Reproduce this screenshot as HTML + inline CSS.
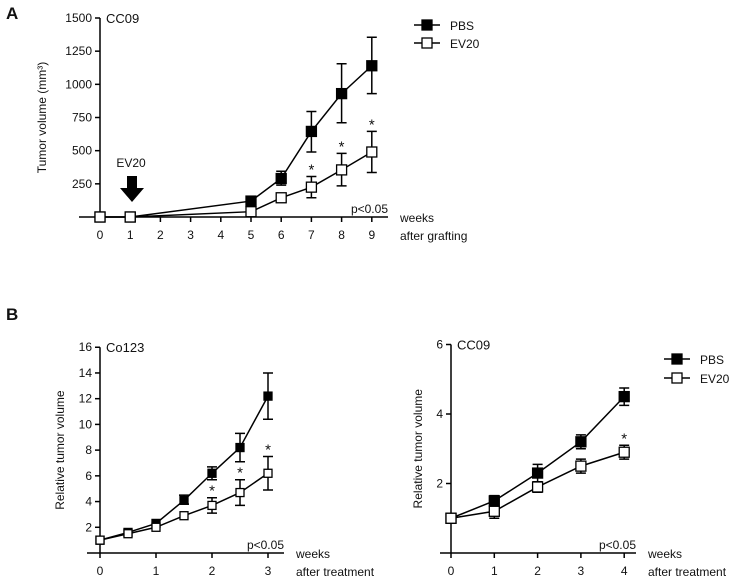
<!DOCTYPE html>
<html><head><meta charset="utf-8"><style>
body{margin:0;background:#fff;width:732px;height:578px;overflow:hidden}
svg{display:block;font-family:"Liberation Sans",Arial,sans-serif}
</style></head><body>
<svg id="fig" width="732" height="578" viewBox="0 0 732 578"></svg>
<script>
// Panel A data
const aWeeks=[0,1,5,6,7,8,9];
const aPBS=[0,0,120,290,645,930,1140];
const aPBSlo=[0,0,120,240,490,710,930];
const aPBShi=[0,0,120,345,795,1155,1355];
const aEV=[0,0,40,145,225,355,490];
const aEVlo=[0,0,40,110,145,235,335];
const aEVhi=[0,0,40,175,305,480,645];
const aStars=[0,0,0,0,1,1,1];
const aYTicks=[250,500,750,1000,1250,1500];
const aXTicks=[0,1,2,3,4,5,6,7,8,9];
// Panel B left data
const bWeeks=[0,0.5,1,1.5,2,2.5,3];
const bPBS=[1,1.6,2.3,4.1,6.2,8.2,12.2];
const bPBSlo=[1,1.6,2.3,3.8,5.7,7.1,10.4];
const bPBShi=[1,1.6,2.3,4.5,6.7,9.3,14.0];
const bEV=[1,1.5,2.0,2.9,3.7,4.7,6.2];
const bEVlo=[1,1.5,2.0,2.9,3.1,3.7,4.9];
const bEVhi=[1,1.5,2.0,2.9,4.3,5.7,7.5];
const bStars=[0,0,0,0,1,1,1];
const bYTicks=[2,4,6,8,10,12,14,16];
const bXTicks=[0,1,2,3];
// Panel B right data
const cWeeks=[0,1,2,3,4];
const cPBS=[1,1.5,2.3,3.2,4.5];
const cPBSlo=[1,1.35,2.05,3.0,4.25];
const cPBShi=[1,1.65,2.55,3.4,4.75];
const cEV=[1,1.2,1.9,2.5,2.9];
const cEVlo=[1,1.0,1.75,2.3,2.7];
const cEVhi=[1,1.4,2.05,2.7,3.1];
const cStars=[0,0,0,0,1];
const cYTicks=[2,4,6];
const cXTicks=[0,1,2,3,4];

const NS="http://www.w3.org/2000/svg";
const svg=document.getElementById('fig');
function el(tag,attrs,parent,text){const e=document.createElementNS(NS,tag);for(const k in attrs)e.setAttribute(k,attrs[k]);if(text!==undefined)e.textContent=text;(parent||svg).appendChild(e);return e;}
function txt(x,y,s,size,anchor,parent,name,extra){const t=el('text',Object.assign({x:x,y:y,'font-size':size,'text-anchor':anchor||'start',fill:'#111'},extra||{}),parent,s);


return t;}

function panel(cfg){
 const g=el('g',{});
 
 
 const X=v=>cfg.x0+(v-cfg.xmin)*cfg.xs, Y=v=>cfg.y0-(v-cfg.ymin)*cfg.ys;
 const xa=el('line',{x1:cfg.axL,x2:cfg.axR,y1:cfg.y0,y2:cfg.y0,stroke:'#000','stroke-width':1.5},g);
 
 
 const ya=el('line',{x1:cfg.x0,x2:cfg.x0,y1:Y(cfg.ymax),y2:cfg.y0,stroke:'#000','stroke-width':1.5},g);
 
 
 cfg.yt.forEach(v=>{el('line',{x1:cfg.x0-5,x2:cfg.x0,y1:Y(v),y2:Y(v),stroke:'#000','stroke-width':1.5},g);
  txt(cfg.x0-8,Y(v)+4,String(v),12,'end',g,'y-tick-label');});
 cfg.xt.forEach(v=>{el('line',{x1:X(v),x2:X(v),y1:cfg.y0,y2:cfg.y0+5,stroke:'#000','stroke-width':1.5},g);
  txt(X(v),cfg.y0+22,String(v),12,'middle',g,'x-tick-label');});
 txt(cfg.x0+6,Y(cfg.ymax)+5,cfg.title,13,'start',g,'panel-title');
 txt(cfg.pX,cfg.y0-4,'p<0.05',12,'end',g,'p-value-note');
 txt(cfg.axR+12,cfg.y0+5,'weeks',12,'start',g,'x-axis-title');
 txt(cfg.axR+12,cfg.y0+23,cfg.xlab2,12,'start',g,'x-axis-title-2');
 txt(0,0,cfg.ylab,12,'middle',g,'y-axis-title',{transform:`translate(${cfg.ylx},${(Y(cfg.ymax)+cfg.y0)/2}) rotate(-90)`});
 [[cfg.pbs,cfg.pbsLo,cfg.pbsHi,'#000','pbs'],[cfg.ev,cfg.evLo,cfg.evHi,'#fff','ev20']].forEach(([v,lo,hi,fill,nm])=>{
  const pts=cfg.w.map((w,i)=>X(w)+','+Y(v[i])).join(' ');
  const pl=el('polyline',{points:pts,fill:'none',stroke:'#000','stroke-width':1.5},g);
  
  
  cfg.w.forEach((w,i)=>{
   if(hi[i]!==lo[i]){const e=el('path',{d:`M${X(w)},${Y(hi[i])}V${Y(lo[i])}M${X(w)-5},${Y(hi[i])}h10M${X(w)-5},${Y(lo[i])}h10`,stroke:'#000','stroke-width':1.5,fill:'none'},g);
    
    }
   const s=cfg.ms;const r=el('rect',{x:X(w)-s/2,y:Y(v[i])-s/2,width:s,height:s,fill:fill,stroke:'#000','stroke-width':1.3},g);
   
   
  });
 });
 cfg.stars.forEach((s,i)=>{if(s)txt(X(cfg.w[i]),Y(cfg.evHi[i])-2,'*',15,'middle',g,'significance-star');});
 return {g,X,Y};
}
function legend(x,y1,y2){
 const g=el('g',{});
 
 
 [[y1,'#000','PBS'],[y2,'#fff','EV20']].forEach(([y,f,t])=>{
  el('line',{x1:x,x2:x+26,y1:y,y2:y,stroke:'#000','stroke-width':1.5},g);
  el('rect',{x:x+8,y:y-5,width:10,height:10,fill:f,stroke:'#000','stroke-width':1.3},g);
  txt(x+36,y+5,t,12,'start',g,'legend-entry');
 });
}
txt(6,19,'A',17,'start',svg,'panel-label-a',{'font-weight':'bold'});
txt(6,320,'B',17,'start',svg,'panel-label-b',{'font-weight':'bold'});
panel({name:'panel-a-chart',x0:100,y0:217,xmin:0,ymin:0,xs:30.2,ys:199/1500,ymax:1500,axL:79,axR:388,yt:aYTicks,xt:aXTicks,title:'CC09',pX:388,xlab2:'after grafting',ylab:'Tumor volume (mm³)',ylx:46,w:aWeeks,pbs:aPBS,pbsLo:aPBSlo,pbsHi:aPBShi,ev:aEV,evLo:aEVlo,evHi:aEVhi,stars:aStars,ms:10});
const ar=el('path',{d:'M127,176h10v12h7l-12,14l-12,-14h7z',fill:'#000'});


txt(131,167,'EV20',12,'middle',svg,'arrow-label');
legend(414,25,43);
panel({name:'panel-b-left-chart',x0:100,y0:553,xmin:0,ymin:0,xs:56,ys:12.86,ymax:16,axL:87,axR:284,yt:bYTicks,xt:bXTicks,title:'Co123',pX:284,xlab2:'after treatment',ylab:'Relative tumor volume',ylx:64,w:bWeeks,pbs:bPBS,pbsLo:bPBSlo,pbsHi:bPBShi,ev:bEV,evLo:bEVlo,evHi:bEVhi,stars:bStars,ms:8});
panel({name:'panel-b-right-chart',x0:451,y0:553,xmin:0,ymin:0,xs:43.3,ys:34.75,ymax:6,axL:440,axR:636,yt:cYTicks,xt:cXTicks,title:'CC09',pX:636,xlab2:'after treatment',ylab:'Relative tumor volume',ylx:422,w:cWeeks,pbs:cPBS,pbsLo:cPBSlo,pbsHi:cPBShi,ev:cEV,evLo:cEVlo,evHi:cEVhi,stars:cStars,ms:10});
legend(664,359,378);
</script>
</body></html>
